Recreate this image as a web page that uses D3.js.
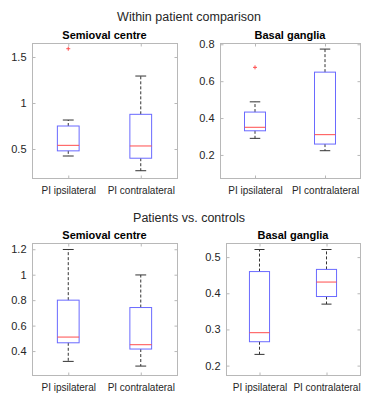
<!DOCTYPE html>
<html lang="en">
<head>
    <meta charset="UTF-8">
    <title>PI boxplots</title>
</head>

<style>

body {
    margin: 0;
    background: #fff;
}

text {
    font-family: 'Liberation Sans', Arial, sans-serif;
    fill: #262626;
}

.frame {
    fill: none;
    stroke: #b8b8b8;
    stroke-width: 1;
}

.box {
    fill: none;
    stroke: #6a6aff;
    stroke-width: 1;
}

.median {
    stroke: #ff4d4d;
    stroke-width: 1;
}

.whisker {
    stroke: #333;
    stroke-dasharray: 3,2;
}

.cap {
    stroke: #333;
}

.outlier {
    stroke: #ff4d4d;
    stroke-width: 1;
}

.axis path {
    display: none;
}

.axis line {
    stroke: #b8b8b8;
}

</style>

<svg height="400" width="378"></svg>

<script src="https://d3js.org/d3.v7.min.js"></script>

<script>

    var categories = ["PI ipsilateral", "PI contralateral"];
    var panelTitles = ["Semioval centre", "Basal ganglia", "Semioval centre", "Basal ganglia"];
    var groupTitles = ["Within patient comparison", "Patients vs. controls"];

    // each box: [lower whisker, q1, median, q3, upper whisker]
    var semiovalWithin = [[0.424, 0.48, 0.54, 0.75, 0.815], [0.264, 0.40, 0.533, 0.877, 1.293]];
    var basalWithin = [[0.29, 0.331, 0.35, 0.4325, 0.488], [0.223, 0.259, 0.31, 0.649, 0.774]];
    var semiovalVsCtrl = [[0.319, 0.465, 0.51, 0.80, 1.198], [0.282, 0.416, 0.45, 0.742, 0.998]];
    var basalVsCtrl = [[0.231, 0.266, 0.291, 0.46, 0.521], [0.37, 0.391, 0.431, 0.466, 0.521]];
    var outliers = [[[0, 1.59]], [[0, 0.675]], [], []];

    var yDomains = [[0.185, 1.652], [0.075, 0.807], [0.212, 1.249], [0.174, 0.539]];
    var yTicks = [[0.5, 1, 1.5], [0.2, 0.4, 0.6, 0.8], [0.4, 0.6, 0.8, 1, 1.2], [0.2, 0.3, 0.4, 0.5]];

    var panelData = [semiovalWithin, basalWithin, semiovalVsCtrl, basalVsCtrl];

    var translate = function(left, top) {
        return "translate(" + left + "," + top + ")";
    };

    var svg = d3.select("svg");

    var panels = [
        {left: 32, right: 177, top: 43, bottom: 178},
        {left: 220, right: 360, top: 43, bottom: 178},
        {left: 32, right: 177, top: 243, bottom: 375},
        {left: 226, right: 360, top: 243, bottom: 375}
    ];

    svg.append("text").text(groupTitles[0])
        .attr("x", 189).attr("y", 21)
        .attr("text-anchor", "middle").style("font-size", "12.5px");
    svg.append("text").text(groupTitles[1])
        .attr("x", 189).attr("y", 222)
        .attr("text-anchor", "middle").style("font-size", "12.5px");

    panels.forEach(function(p, k) {
        var w = p.right - p.left, h = p.bottom - p.top;
        var g = svg.append("g").attr("transform", translate(p.left, p.top));

        var x = d3.scaleLinear().domain([0.5, 2.5]).range([0, w]);
        var y = d3.scaleLinear().domain(yDomains[k]).range([h, 0]);
        var halfBox = x(1.15) - x(1);

        g.append("rect").attr("class", "frame")
            .attr("x", 0.5).attr("y", 0.5).attr("width", w).attr("height", h);

        var yAxis = d3.axisLeft(y).tickValues(yTicks[k]).tickFormat(d3.format("")).tickSize(-3).tickPadding(6);
        g.append("g").attr("class", "axis").attr("transform", translate(0.5, 0)).call(yAxis)
            .selectAll("text").style("font-size", "11px").style("fill", "#262626");
        g.append("g").attr("class", "axis").attr("transform", translate(w + 0.5, 0))
            .call(d3.axisRight(y).tickValues(yTicks[k]).tickSize(-3).tickFormat(""));

        var xAxis = d3.axisBottom(x).tickValues([1, 2]).tickFormat(function(d) { return categories[d - 1]; })
            .tickSize(-3).tickPadding(8);
        g.append("g").attr("class", "axis").attr("transform", translate(0, h + 0.5)).call(xAxis)
            .selectAll("text").style("font-size", "10px").style("fill", "#262626");
        g.append("g").attr("class", "axis").attr("transform", translate(0, 0.5))
            .call(d3.axisTop(x).tickValues([1, 2]).tickSize(-3).tickFormat(""));

        g.append("text").text(panelTitles[k])
            .attr("x", w / 2).attr("y", -4)
            .attr("text-anchor", "middle")
            .style("font-size", "11px").style("font-weight", "bold").style("fill", "#000");

        var boxes = g.selectAll(".bx").data(panelData[k]).enter().append("g").attr("class", "bx");

        boxes.append("line").attr("class", "whisker")
            .attr("x1", function(d, i) { return x(i + 1); }).attr("x2", function(d, i) { return x(i + 1); })
            .attr("y1", function(d) { return y(d[3]); }).attr("y2", function(d) { return y(d[4]); });
        boxes.append("line").attr("class", "whisker")
            .attr("x1", function(d, i) { return x(i + 1); }).attr("x2", function(d, i) { return x(i + 1); })
            .attr("y1", function(d) { return y(d[1]); }).attr("y2", function(d) { return y(d[0]); });

        [0, 4].forEach(function(j) {
            boxes.append("line").attr("class", "cap")
                .attr("x1", function(d, i) { return x(i + 1) - halfBox / 2; })
                .attr("x2", function(d, i) { return x(i + 1) + halfBox / 2; })
                .attr("y1", function(d) { return y(d[j]); }).attr("y2", function(d) { return y(d[j]); });
        });

        boxes.append("rect").attr("class", "box")
            .attr("x", function(d, i) { return x(i + 1) - halfBox; })
            .attr("width", 2 * halfBox)
            .attr("y", function(d) { return y(d[3]); })
            .attr("height", function(d) { return y(d[1]) - y(d[3]); });

        boxes.append("line").attr("class", "median")
            .attr("x1", function(d, i) { return x(i + 1) - halfBox; })
            .attr("x2", function(d, i) { return x(i + 1) + halfBox; })
            .attr("y1", function(d) { return y(d[2]); }).attr("y2", function(d) { return y(d[2]); });

        outliers[k].forEach(function(o) {
            var cx = x(o[0] + 1), cy = y(o[1]);
            g.append("path").attr("class", "outlier")
                .attr("d", "M" + (cx - 2) + "," + cy + "H" + (cx + 2) + "M" + cx + "," + (cy - 2) + "V" + (cy + 2));
        });
    });

</script>
